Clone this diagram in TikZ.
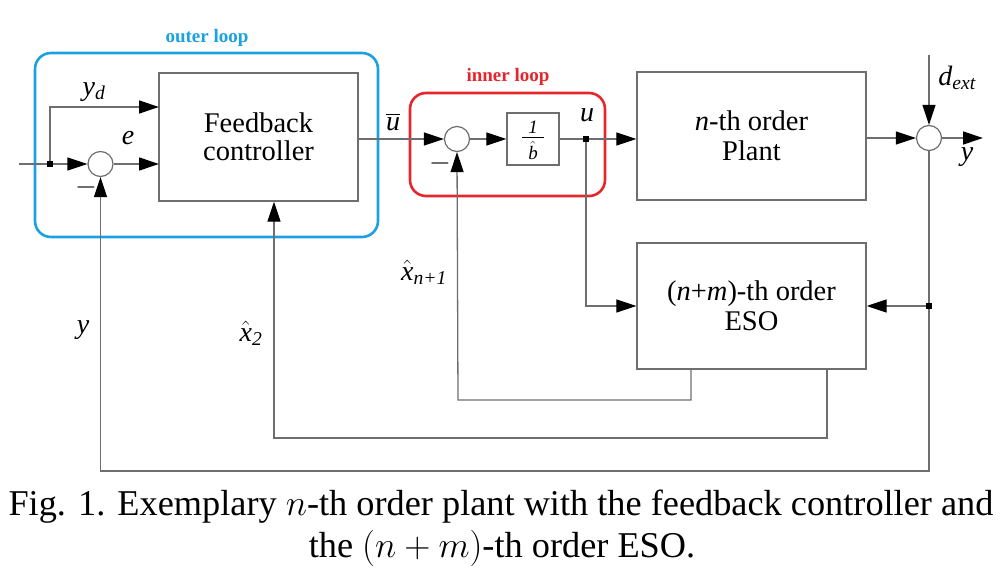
\RequirePackage{fix-cm}
\documentclass[tikz,border=0pt]{standalone}
\usepackage{amsmath}
\usepackage{fontspec}
\setmainfont{Liberation Serif}
\usetikzlibrary{arrows.meta,calc}
\definecolor{outerblue}{RGB}{27,161,226}
\definecolor{innerred}{RGB}{230,38,45}
\definecolor{linegray}{RGB}{110,110,110}
\tikzset{
  blk/.style={draw=linegray,line width=1.4pt,rectangle,inner sep=0pt,align=center,font=\rmfamily\fontsize{28.5}{31}\selectfont},
  sumnode/.style={draw=linegray,line width=1.2pt,circle,minimum size=25pt,inner sep=0pt,fill=white},
  conn/.style={draw=linegray,line width=1.3pt},
  arr/.style={conn,-{Triangle[length=20pt,width=13pt,fill=black,color=black]}},
  jdot/.style={fill=black,rectangle,minimum size=6pt,inner sep=0pt},
  lbl/.style={font=\rmfamily\fontsize{28}{31}\selectfont,inner sep=0pt},
  fractxt/.style={font=\rmfamily\fontsize{19}{20}\selectfont,inner sep=0pt},
  looplbl/.style={font=\rmfamily\fontsize{19}{22}\selectfont\bfseries,inner sep=0pt},
  loopbox/.style={line width=2.6pt,rounded corners=16pt},
  captext/.style={font=\rmfamily\fontsize{36.3}{41}\selectfont,inner sep=0pt}
}
\begin{document}
\begin{tikzpicture}[x=1pt,y=-1pt]
\useasboundingbox (0,0) rectangle (1005,572);
% loop boxes
\draw[loopbox,draw=outerblue] (35,53) rectangle (378,237);
\draw[loopbox,draw=innerred] (410,93) rectangle (605,196);
\node[looplbl,text=outerblue] (outerlbl) at (207,38) {outer loop};
\node[looplbl,text=innerred] (innerlbl) at (508,77) {inner loop};
% blocks
\node[blk,minimum width=199pt,minimum height=128pt] (fc) at (258.5,137) {Feedback\\[-3pt]controller};
\node[sumnode] (s1) at (100.5,164) {};
\node[sumnode] (s2) at (457,139) {};
\node[blk,minimum width=52pt,minimum height=52pt] (binv) at (533,139) {};
\node[fractxt] (bnum) at (533,127) {\textit{1}};
\coordinate (fl) at (522,137.5);
\coordinate (fr) at (544,137.5);
\draw[line width=0.7pt] (fl) -- (fr);
\node[fractxt] (bden) at (533,150) {$\hat{\textit{b}}$};
\node[blk,minimum width=229pt,minimum height=128pt] (plant) at (751.5,136) {\textit{n}-th order\\[-1pt]Plant};
\node[sumnode] (s3) at (929,138) {};
\node[blk,minimum width=229pt,minimum height=126pt] (eso) at (751.5,306) {(\textit{n}+\textit{m})-th order\\[-1pt]ESO};
% coordinates
\coordinate (in) at (19,164);
\node[jdot] (br) at (50,164) {};
\node[jdot] (ud) at (586,139) {};
\node[jdot] (yd) at (929,306) {};
\coordinate (dtop) at (929,55);
\coordinate (yout) at (983,138);
\coordinate (fcyd) at (159,107);
\coordinate (fce) at (159,164);
\coordinate (e1) at (691,369);
\coordinate (e2) at (827,369);
% connectors
\draw[conn] (in) -- (br);
\draw[arr] (br) -- (s1.west);
\draw[arr] (br) |- (fcyd);
\draw[arr] (s1.east) -- (fce);
\draw[arr] (fc.east |- s2) -- (s2.west);
\draw[arr] (s2.east) -- (binv.west);
\draw[conn] (binv.east) -- (ud);
\draw[arr] (ud) -- (plant.west |- ud);
\draw[arr] (plant.east |- s3) -- (s3.west);
\draw[arr] (dtop) -- (s3.north);
\draw[arr] (s3.east) -- (yout);
\draw[conn] (s3.south) -- (yd);
\draw[arr] (yd) -- (eso.east |- yd);
\draw[arr] (yd) -- (929,471) -| (s1.south);
\draw[arr] (ud) |- (eso.west);
\draw[arr] (e1) |- (458,400) -- (s2.south);
\draw[arr] (e2) |- (274,438) -- (fc.south -| 274,0);
% labels
\node[lbl] (lyd) at (94,92) {\textit{y}$_{\textit{d}}$};
\node[lbl] (le) at (128,138) {\textit{e}};
\node[lbl] (lm1) at (86,188) {$-$};
\node[lbl] (lub) at (393,122) {$\overline{\textit{u}}$};
\node[lbl] (lm2) at (440,164) {$-$};
\node[lbl] (lu) at (587,115) {\textit{u}};
\node[lbl] (ldext) at (957,78) {\textit{d}$_{\textit{ext}}$};
\node[lbl] (lyo) at (967,157) {\textit{y}};
\node[lbl] (lxn) at (424,272) {$\hat{\textit{x}}_{\textit{n+1}}$};
\node[lbl] (ly) at (83,330) {\textit{y}};
\node[lbl] (lx2) at (251,333) {$\hat{\textit{x}}_{\textit{2}}$};
% caption
\node[captext] (cap1) at (501,507) {Fig. 1. Exemplary $n$-th order plant with the feedback controller and};
\node[captext] (cap2) at (502,548) {the $(n+m)$-th order ESO.};
\end{tikzpicture}
\end{document}
